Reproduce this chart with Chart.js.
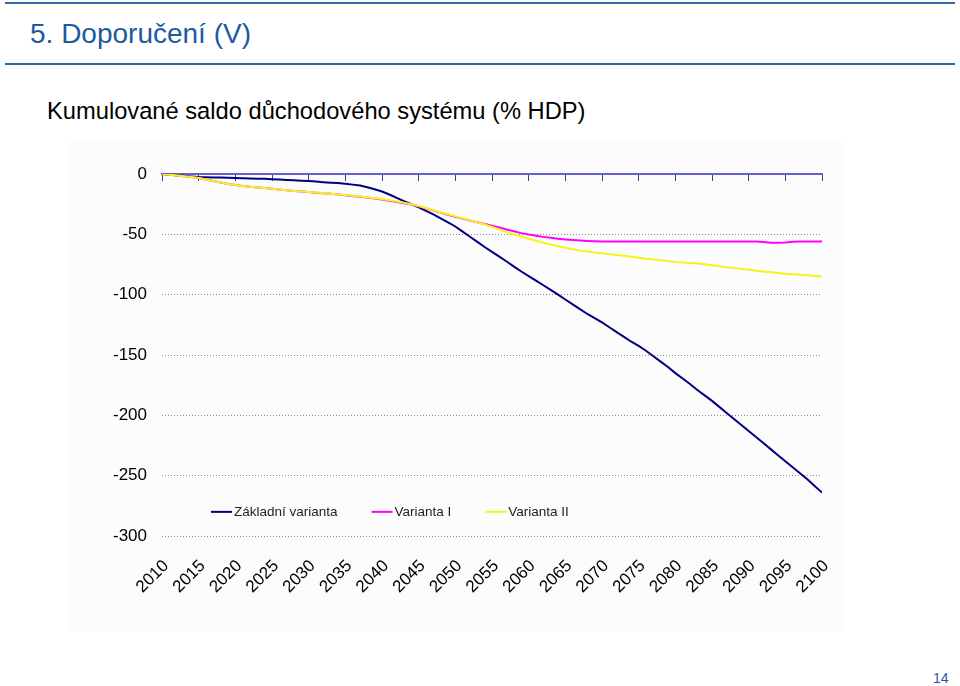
<!DOCTYPE html>
<html lang="cs">
<head>
<meta charset="UTF-8">
<title>Kumulované saldo důchodového systému (% HDP)</title>
<script src="https://cdn.jsdelivr.net/npm/chart.js"></script>
<style>
  body {
    margin: 0;
    width: 960px;
    height: 686px;
    background: #fff;
    position: relative;
    overflow: hidden;
    font-family: "Liberation Sans", Arial, sans-serif;
  }
  .rule { position: absolute; left: 5px; width: 950px; height: 2px; background: #2f6aa8; }
  #title { position: absolute; left: 30px; top: 18px; font-size: 28px; color: #1d5aa0; white-space: nowrap; }
  #subtitle { position: absolute; left: 47px; top: 98px; font-size: 23.7px; color: #000; white-space: nowrap; }
  #pageNo { position: absolute; left: 933px; top: 670px; font-size: 14px; color: #1d5aa0; }
  #chartBox { position: absolute; left: 68px; top: 140px; width: 777px; height: 492px; background: #fcfcfc; }
</style>
</head>
<body>

<div class="rule" style="top:2px"></div>
<div id="title">5. Doporučení (V)</div>
<div class="rule" style="top:63px"></div>
<div id="subtitle">Kumulované saldo důchodového systému (% HDP)</div>
<div id="chartBox"><canvas id="myChart"></canvas></div>
<div id="pageNo">14</div>

<script>
  // roky 2010 - 2100
  var years = Array.from({ length: 91 }, function (_, i) { return 2010 + i; });

  var seriesNames = ['Základní varianta', 'Varianta I', 'Varianta II'];

  var zakladni = [
    0, -0.5, -1, -1.5, -2, -2.5, -2.7, -2.8, -3, -3.2,
    -3.4, -3.6, -3.8, -3.9, -4, -4.3, -4.6, -4.9, -5.2, -5.5,
    -5.8, -6.3, -6.8, -7.2, -7.5, -8, -8.8, -9.6, -11, -12.6,
    -14.5, -17, -19.8, -22.5, -25, -27.7, -30.5, -33.5, -36.8, -40,
    -43.5, -47.8, -52, -56.3, -60.5, -64.5, -68.5, -72.5, -76.8, -80.8,
    -84.6, -88.4, -92.2, -96, -100, -104, -108, -112, -116, -119.5,
    -123, -127, -131, -135, -139, -142.5, -146.5, -151, -155.5, -160,
    -165, -169.5, -174, -179, -183.5, -188, -193, -198, -203, -208,
    -213, -218, -223, -228, -233, -238, -243, -248, -253, -258.5,
    -264
  ];

  var variantaI = [
    0, -0.6, -1.2, -1.8, -2.5, -3.3, -4.5, -5.8, -7, -8.2,
    -9.2, -10, -10.6, -11.1, -11.7, -12.3, -12.9, -13.5, -14.1, -14.6,
    -15, -15.5, -15.9, -16.4, -17, -17.6, -18.2, -18.8, -19.5, -20.3,
    -21.2, -22.2, -23.2, -24.2, -25.3, -26.8, -28.5, -30.3, -32, -33.8,
    -35.5, -37, -38.5, -40, -41.4, -42.8, -44.4, -46, -47.5, -49,
    -50.2, -51.2, -52.1, -52.9, -53.6, -54.2, -54.7, -55.1, -55.5, -55.8,
    -56, -56, -56, -56, -56, -56, -56, -56, -56, -56,
    -56, -56, -56, -56, -56, -56, -56, -56, -56, -56,
    -56, -56, -56.3, -57, -57, -56.8, -56.2, -56, -56, -56,
    -56
  ];

  var variantaII = [
    0, -0.6, -1.2, -1.8, -2.5, -3.3, -4.5, -5.8, -7, -8.2,
    -9.2, -10, -10.6, -11.1, -11.7, -12.3, -12.9, -13.5, -14.1, -14.6,
    -15, -15.4, -15.8, -16.3, -16.9, -17.5, -18.1, -18.7, -19.3, -20,
    -20.8, -21.7, -22.7, -23.8, -25, -26.5, -28.2, -30, -31.7, -33.4,
    -35, -36.6, -38.3, -40, -41.8, -43.8, -46, -48.2, -50.2, -51.8,
    -53.6, -55.3, -56.9, -58.4, -59.8, -61.2, -62.4, -63.5, -64.3, -65,
    -65.7, -66.4, -67.1, -67.8, -68.6, -69.4, -70.2, -70.9, -71.5, -72.2,
    -72.9, -73.4, -73.8, -74.2, -74.8, -75.6, -76.5, -77.3, -78, -78.7,
    -79.4, -80.1, -80.8, -81.4, -82, -82.6, -83.1, -83.5, -84, -84.5,
    -85
  ];

  var seriesColors = ['#000080', '#ff00ff', '#f4f41c'];
  var legendLevel = -280; // legenda sedi uvnitr grafu mezi -250 a -300

  function points(values) {
    return values.map(function (v, i) { return { x: years[i], y: v }; });
  }

  function noSidePadding(s) {
    s.paddingLeft = 0;
    s.paddingRight = 0;
  }

  // legenda vykreslena primo v ploše grafu
  var insideLegend = {
    id: 'insideLegend',
    afterDatasetsDraw: function (chart) {
      var ctx = chart.ctx;
      var y = chart.scales.y.getPixelForValue(legendLevel);
      var x = chart.chartArea.left + 49;
      ctx.save();
      ctx.font = '13.5px "Liberation Sans", Arial, sans-serif';
      ctx.textBaseline = 'middle';
      chart.data.datasets.forEach(function (ds) {
        ctx.strokeStyle = ds.borderColor;
        ctx.lineWidth = 2;
        ctx.beginPath();
        ctx.moveTo(x, y);
        ctx.lineTo(x + 21, y);
        ctx.stroke();
        x += 23;
        ctx.fillStyle = '#222';
        ctx.fillText(ds.label, x, y);
        x += ctx.measureText(ds.label).width + 34;
      });
      ctx.restore();
    }
  };

  var data = {
    datasets: [
      { label: seriesNames[0], data: points(zakladni), borderColor: seriesColors[0], order: 2 },
      { label: seriesNames[1], data: points(variantaI), borderColor: seriesColors[1], order: 1 },
      { label: seriesNames[2], data: points(variantaII), borderColor: seriesColors[2], order: 0 }
    ]
  };
  data.datasets.forEach(function (ds) {
    ds.xAxisID = 'x';
    ds.borderWidth = 2;
    ds.pointRadius = 0;
    ds.fill = false;
    ds.tension = 0;
  });

  var ctx = document.getElementById('myChart').getContext('2d');
  var myChart = new Chart(ctx, {
    type: 'line',
    data: data,
    plugins: [insideLegend],
    options: {
      responsive: true,
      maintainAspectRatio: false,
      animation: false,
      layout: { padding: { top: 34, left: 34, right: 23, bottom: 0 } },
      plugins: {
        legend: { display: false },
        tooltip: { enabled: false }
      },
      scales: {
        x: {
          type: 'linear',
          min: 2010,
          max: 2100,
          afterFit: function (s) { s.height = 96; noSidePadding(s); },
          ticks: {
            stepSize: 5,
            autoSkip: false,
            maxRotation: 45,
            minRotation: 45,
            padding: 20,
            labelOffset: 4,
            color: '#000',
            font: { family: '"Liberation Sans", Arial, sans-serif', size: 17 },
            callback: function (v) { return String(v); }
          },
          grid: { display: false, drawTicks: false },
          border: { display: false }
        },
        // osa v nule s carkami po 5 letech
        x2: {
          type: 'linear',
          axis: 'x',
          position: { y: 0 },
          min: 2010,
          max: 2100,
          afterFit: function (s) { s.height = 0; noSidePadding(s); },
          ticks: { display: false, stepSize: 5, autoSkip: false },
          grid: { drawOnChartArea: false, drawTicks: true, tickLength: 6, color: '#3a3a9a', lineWidth: 1 },
          border: { display: true, color: '#6464c8', width: 2 }
        },
        y: {
          min: -300,
          max: 0,
          afterFit: function (s) { s.width = 60; },
          ticks: {
            stepSize: 50,
            padding: 15,
            color: '#000',
            font: { family: '"Liberation Sans", Arial, sans-serif', size: 17 }
          },
          grid: {
            color: function (c) { return c.tick && c.tick.value === 0 ? 'rgba(0,0,0,0)' : '#8c8c8c'; },
            lineWidth: 1,
            drawTicks: false,
            borderDash: [1, 2]
          },
          border: { display: false, dash: [1, 2] }
        }
      }
    }
  });
</script>

</body>
</html>
